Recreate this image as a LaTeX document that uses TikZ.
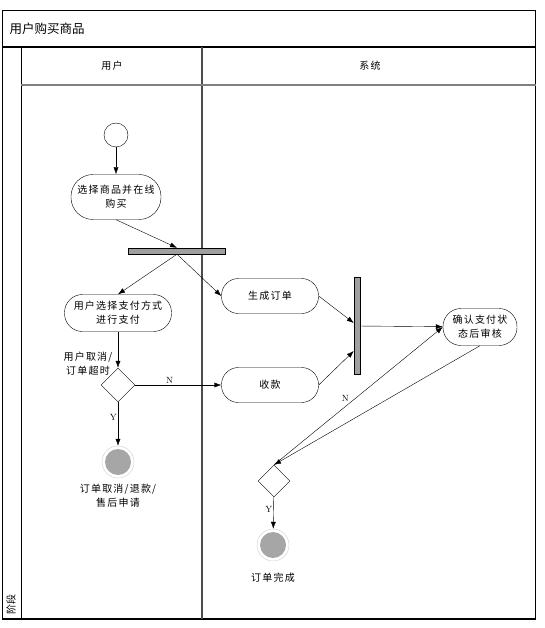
\documentclass[tikz,border=0pt]{standalone}
\usepackage{fontspec}
\newfontfamily\cjk[LetterSpace=12]{Noto Sans CJK SC}
\newfontfamily\cjkplain{Noto Sans CJK SC}
\usetikzlibrary{arrows.meta,positioning,shapes.geometric,calc}

\begin{document}
\begin{tikzpicture}[
	x=1pt, y=-1pt,
	>={Latex[length=7pt, width=5pt]},
	font=\cjk\fontsize{10}{14}\selectfont,
	act/.style={draw, rectangle, align=center, inner sep=1pt},
	bar/.style={draw, fill=gray!75, inner sep=0pt},
	choice/.style={draw, diamond, minimum width=34pt, minimum height=34pt, inner sep=0pt},
	final/.style={circle, draw=gray!40, minimum size=32pt, inner sep=0pt,
		path picture={\fill[gray!70] (path picture bounding box.center) circle (13pt);}},
	lbl/.style={font=\rmfamily\fontsize{9}{10}\selectfont, inner sep=1pt},
	lane/.style={font=\cjk\fontsize{10}{12}\selectfont}
]
\useasboundingbox (0,0) rectangle (545,628);

% swimlanes
\draw[line width=1.2pt] (2.5,10.5) rectangle (535.5,619);
\draw[line width=1.2pt] (2.5,47) -- (535.5,47);
\draw (21,47) -- (21,619);
\draw[gray!60!black, line width=1.5pt] (202,47) -- (202,619);
\draw[gray, line width=2pt] (21,85) -- (535.5,85);
\node[anchor=west, font=\cjkplain\fontsize{12.5}{14}\selectfont] (title) at (6,29) {用户购买商品};
\node[lane] (laneuser) at (112,66) {用户};
\node[lane] (lanesys) at (370,66) {系统};
\node[rotate=90, font=\cjkplain\fontsize{10}{12}\selectfont] (stage) at (11,604) {阶段};

% nodes
\node[circle, draw, minimum size=24pt, inner sep=0pt] (start) at (116,135) {};
\node[act, minimum width=90pt, minimum height=45pt, rounded corners=22pt] (pick) at (116,197) {选择商品并在线\\购买};
\node[bar, minimum width=97pt, minimum height=6pt] (fork) at (177,251) {};
\node[act, minimum width=107pt, minimum height=37pt, rounded corners=18pt] (pay) at (118,313) {用户选择支付方式\\进行支付};
\node[act, minimum width=97pt, minimum height=35pt, rounded corners=17pt] (order) at (270,296) {生成订单};
\node[choice] (dec1) at (118,385) {};
\node[align=center] (guard) at (88,364) {用户取消/\\订单超时};
\node[act, minimum width=97pt, minimum height=35pt, rounded corners=17pt] (collect) at (270,385) {收款};
\node[bar, minimum width=6pt, minimum height=97pt] (join) at (357,326) {};
\node[act, minimum width=74pt, minimum height=37pt, rounded corners=18pt] (check) at (480,327) {确认支付状\\态后审核};
\node[final] (end1) at (118,462) {};
\node[align=center, below=2pt of end1] (end1txt) {订单取消/退款/\\售后申请};
\node[choice, minimum width=32pt, minimum height=32pt] (dec2) at (274,481) {};
\node[final] (end2) at (273,545) {};
\node[below=8pt of end2] (end2txt) {订单完成};

% flows
\draw[->] (start) -- (pick);
\draw[->] (pick.south) -- (fork.north);
\draw[->] (fork.south) -- (pay.north);
\draw[->] (fork.south) -- (order.west);
\draw[->] (pay) -- (dec1);
\draw[->] (dec1) -- node[lbl, above, pos=0.4] (no1) {N} (collect);
\draw[->] (dec1) -- node[lbl, left, pos=0.35] (yes1) {Y} (end1);
\draw[->] (order.east) -- ($(join.west)+(0,-3)$);
\draw[->] (collect.east) -- ($(join.west)+(0,25)$);
\draw[->] (join) -- (check);
\draw[->] (dec2.north) -- node[lbl, above left, pos=0.45] (no2) {N} (check.west);
\draw[->] (check.south) -- (dec2.north);
\draw[->] (dec2) -- node[lbl, left, pos=0.4] (yes2) {Y} (end2);
\end{tikzpicture}
\end{document}
